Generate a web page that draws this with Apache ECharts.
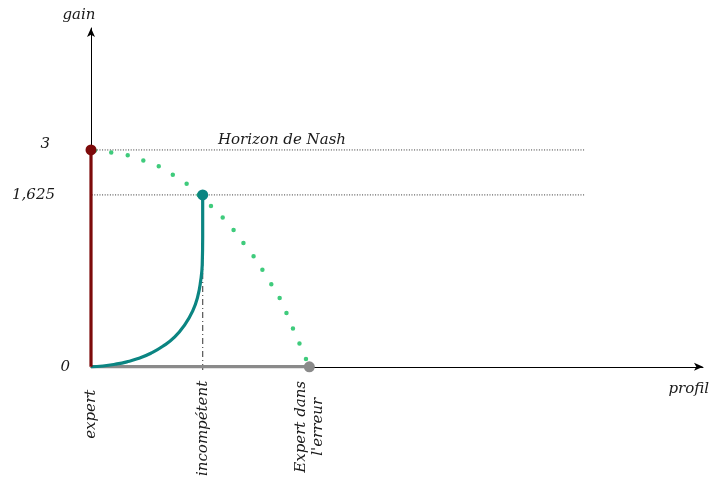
<!DOCTYPE html>
<html>
<head>
<meta charset="utf-8">
<script src="https://cdn.jsdelivr.net/npm/echarts@6/dist/echarts.min.js"></script>
<style>
  html, body { margin: 0; padding: 0; background: #fff; }
  #chart { width: 712px; height: 479px; }
</style>
</head>
<body>
<div id="chart"></div>
<script>
// Profiles along the horizontal axis
const profilLabels = ['expert', 'incompétent', "Expert dans\nl'erreur"];
const profilValues = [0, 1, 1.955];

// Gain levels marked on the vertical axis
const gainTickValues = [0, 1.625, 3];
const gainTickLabels = ['0', '1,625', '3'];

// Gain of the expert, the incompetent profile and the mistaken expert
const expertGain = 3;
const incompetentGain = 1.625;
const erreurGain = 0;

// Path of the incompetent profile (teal curve)
const tealProfil = [0, 0.107, 0.214, 0.321, 0.429, 0.536, 0.643, 0.75, 0.839, 0.911, 0.955, 0.982, 0.996, 1.0, 1.0];
const tealGain   = [0, 0.008, 0.024, 0.047, 0.080, 0.128, 0.194, 0.283, 0.397, 0.529, 0.661, 0.813, 0.964, 1.228, 1.625];

// Nash horizon (dotted green curve)
const nashProfil = [0, 0.31, 0.455, 0.6, 0.732, 0.86, 0.964, 1.19, 1.38, 1.473, 1.55, 1.71, 1.768, 1.83, 1.955];
const nashGain   = [3, 2.85, 2.69, 2.51, 2.24, 1.96, 1.625, 1.40, 1.15, 1.02, 0.89, 0.61, 0.46, 0.31, 0];

// Extent of the reference lines and position of their caption
const refLineProfil = [-0.25, 4.42];
const horizonCaption = 'Horizon de Nash';
const horizonCaptionProfil = 1.71;

// The gain axis is schematic: stretched below 1,625 and compressed above it.
function gainToY(g) {
  return g <= 1.625 ? g * (2.378 / 1.625) : 2.378 + (g - 1.625) * (0.622 / 1.375);
}
const pt = (x, g) => [x, gainToY(g)];

const serif = 'DejaVu Serif';
const txt = { fontFamily: serif, fontStyle: 'italic', fontSize: 15, color: '#1a1a1a' };

const chart = echarts.init(document.getElementById('chart'), null, { renderer: 'canvas' });

const series = [];

// Horizontal dotted reference lines
[expertGain, incompetentGain].forEach(g => {
  series.push({
    type: 'line', clip: false, symbol: 'none', z: 1, silent: true,
    data: [pt(refLineProfil[0], g), pt(refLineProfil[1], g)],
    lineStyle: { color: '#333', width: 1, type: [1, 1.6] }
  });
});

// Caption of the Nash horizon line
series.push({
  type: 'scatter', z: 1, silent: true, symbolSize: 1,
  itemStyle: { color: 'rgba(0,0,0,0)', opacity: 1 },
  data: [pt(horizonCaptionProfil, expertGain)],
  label: Object.assign({ show: true, position: 'top', distance: 2, formatter: horizonCaption, opacity: 1 }, txt)
});

// Dash-dot drop line under the incompetent profile
series.push({
  type: 'line', clip: false, symbol: 'none', z: 2,
  data: [pt(profilValues[1], incompetentGain), pt(profilValues[1], -0.035)],
  lineStyle: { color: '#555', width: 1.2, type: [6, 3, 1, 3] }
});

// Gray segment along the profile axis
series.push({
  type: 'line', symbol: 'none', z: 3,
  data: [pt(profilValues[0], 0), pt(profilValues[2], erreurGain)],
  lineStyle: { color: '#8a8a8a', width: 3.5 }
});

// Teal curve of the incompetent profile
series.push({
  type: 'line', symbol: 'none', z: 4, smooth: 0.5,
  data: tealProfil.map((x, i) => pt(x, tealGain[i])),
  lineStyle: { color: '#0b8582', width: 3.2 }
});

// Expert vertical bar
series.push({
  type: 'line', symbol: 'none', z: 4,
  data: [pt(profilValues[0], 0), pt(profilValues[0], expertGain)],
  lineStyle: { color: '#7d0a0a', width: 3.2 }
});

// Nash horizon dotted curve
series.push({
  type: 'line', symbol: 'none', z: 5, smooth: 0.4,
  data: nashProfil.map((x, i) => pt(x, nashGain[i])),
  lineStyle: { color: '#3fcb7c', width: 4.5, type: [0, 16.5], dashOffset: 12.5, cap: 'round' }
});

// End points
series.push({
  type: 'scatter', z: 6, symbolSize: 11,
  data: [
    { value: pt(profilValues[0], expertGain), itemStyle: { color: '#7d0a0a', opacity: 1 } },
    { value: pt(profilValues[1], incompetentGain), itemStyle: { color: '#0b8582', opacity: 1 } },
    { value: pt(profilValues[2], erreurGain), itemStyle: { color: '#8a8a8a', opacity: 1 } }
  ]
});

const yTickPos = gainTickValues.map(gainToY);

chart.setOption({
  animation: false,
  backgroundColor: '#fff',
  grid: { left: 91, top: 28, right: 7, bottom: 112, containLabel: false },
  xAxis: {
    type: 'value', min: 0, max: 5.48,
    name: 'profil', nameLocation: 'end', nameGap: 6,
    nameTextStyle: Object.assign({}, txt, { align: 'right', verticalAlign: 'top', padding: [15, 0, 0, 0] }),
    axisLine: { show: true, onZero: false, symbol: ['none', 'arrow'], symbolSize: [6, 9], lineStyle: { color: '#000', width: 1 } },
    axisTick: { show: false },
    splitLine: { show: false },
    axisLabel: {
      customValues: profilValues,
      rotate: 90, margin: 14,
      formatter: v => {
        const i = profilValues.findIndex(p => Math.abs(p - v) < 1e-6);
        if (i < 0) return '';
        const lines = profilLabels[i].split('\n');
        if (lines.length > 1) return lines.map(s => '{c|' + s + '}').join('\n');
        return (i === 0 ? '{e|' : '{s|') + lines[0] + '}';
      },
      rich: {
        s: Object.assign({}, txt, { lineHeight: 17 }),
        e: Object.assign({}, txt, { lineHeight: 17, padding: [0, 9, 0, 0] }),
        c: Object.assign({}, txt, { width: 92, align: 'center', lineHeight: 17 })
      }
    }
  },
  yAxis: {
    type: 'value', min: 0, max: 4.687,
    name: 'gain', nameLocation: 'end', nameGap: 5,
    nameTextStyle: Object.assign({}, txt, { align: 'center', padding: [0, 24, 0, 0] }),
    axisLine: { show: true, onZero: false, symbol: ['none', 'arrow'], symbolSize: [6, 9], lineStyle: { color: '#000', width: 1 } },
    axisTick: { show: false },
    splitLine: { show: false },
    axisLabel: {
      customValues: yTickPos,
      margin: 21,
      formatter: v => {
        const i = yTickPos.findIndex(p => Math.abs(p - v) < 1e-6);
        if (i < 0) return '';
        return '{t' + i + '|' + gainTickLabels[i] + '}';
      },
      rich: {
        t0: Object.assign({}, txt),
        t1: Object.assign({}, txt, { padding: [0, 15, 0, 0] }),
        t2: Object.assign({}, txt, { padding: [0, 20, 12, 0] })
      }
    }
  },
  series
});
</script>
</body>
</html>
